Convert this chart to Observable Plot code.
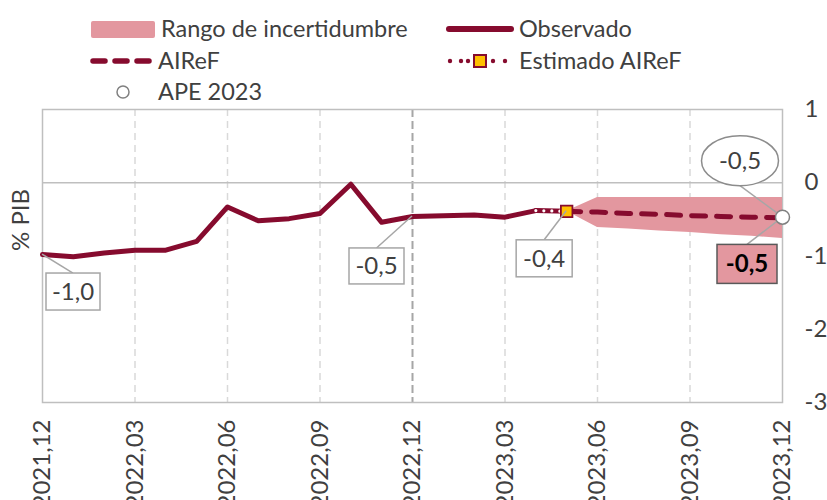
<!DOCTYPE html>
<html><head><meta charset="utf-8">
<script src="https://cdn.jsdelivr.net/npm/d3@7"></script>
<script src="https://cdn.jsdelivr.net/npm/@observablehq/plot@0.6"></script>
<style>
body{margin:0;background:#fff;}
#wrap{position:relative;width:827px;height:500px;overflow:hidden;font-family:Lato,sans-serif;color:#404040;}
#wrap svg.leg{position:absolute;left:0;top:0;}
</style></head><body><div id="wrap"></div>
<script>
// ---- data ----
const obsPeriods = ["2021-12","2022-01","2022-02","2022-03","2022-04","2022-05","2022-06","2022-07","2022-08","2022-09","2022-10","2022-11","2022-12","2023-01","2023-02","2023-03","2023-04"];
const obsValues  = [-0.98,-1.01,-0.96,-0.92,-0.92,-0.80,-0.33,-0.52,-0.49,-0.42,-0.02,-0.54,-0.46,-0.45,-0.44,-0.47,-0.38];
const estPeriods = ["2023-04","2023-05"];
const estValues  = [-0.38,-0.39];
const airefPeriods = ["2023-05","2023-06","2023-07","2023-08","2023-09","2023-10","2023-11","2023-12"];
const airefValues  = [-0.39,-0.40,-0.42,-0.43,-0.45,-0.46,-0.47,-0.48];
const bandLow  = [-0.39,-0.61,-0.63,-0.66,-0.68,-0.71,-0.73,-0.76];
const bandHigh = [-0.39,-0.20,-0.20,-0.20,-0.20,-0.20,-0.20,-0.20];
const apePeriods = ["2023-12"];
const apeValues  = [-0.47];
const tickPeriods = ["2021-12","2022-03","2022-06","2022-09","2022-12","2023-03","2023-06","2023-09","2023-12"];
const tickLabels  = ["2021,12","2022,03","2022,06","2022,09","2022,12","2023,03","2023,06","2023,09","2023,12"];
const yTicks = [-3,-2,-1,0,1];
const legendLabels = ["Rango de incertidumbre","Observado","AIReF","Estimado AIReF","APE 2023"];

// ---- helpers ----
const idx = p => { const [y,m] = p.split("-").map(Number); return (y-2021)*12 + (m-12); };
const rows = (ps, vs) => ps.map((p,i)=>({x:idx(p), y:vs[i]}));
const fmt = v => v.toFixed(1).replace(".", ",");
const MAROON = "#860b2e", PINK = "#e3979f", GRID = "#d9d9d9", TXT = "#404040";

const obs = rows(obsPeriods, obsValues);
const est = rows(estPeriods, estValues);
const aire = rows(airefPeriods, airefValues);
const band = airefPeriods.map((p,i)=>({x:idx(p), lo:bandLow[i], hi:bandHigh[i]}));
const ape = rows(apePeriods, apeValues);
const tickIdx = tickPeriods.map(idx);
const splitIdx = idx("2022-12");

const plot = Plot.plot({
  width: 827, height: 500,
  marginLeft: 42, marginRight: 45, marginTop: 109, marginBottom: 98,
  style: {fontFamily: "Lato, sans-serif", fontSize: "24px", color: TXT, background: "transparent", overflow: "visible"},
  x: {type: "linear", domain: [tickIdx[0], tickIdx[tickIdx.length-1]], ticks: tickIdx,
      tickFormat: d => tickLabels[tickIdx.indexOf(d)], tickRotate: -90, tickSize: 0, tickPadding: 17, label: null},
  y: {domain: [yTicks[0], yTicks[yTicks.length-1]], ticks: yTicks, axis: "right", tickSize: 0, tickPadding: 22,
      tickFormat: d => String(d), label: null},
  marks: [
    Plot.ruleX(tickIdx.filter(d => d !== splitIdx && d !== tickIdx[0] && d !== tickIdx[tickIdx.length-1]),
      {stroke: GRID, strokeWidth: 1.5, strokeDasharray: "7,5"}),
    Plot.ruleX([splitIdx], {stroke: "#a6a6a6", strokeWidth: 2, strokeDasharray: "8,4"}),
    Plot.ruleY([0], {stroke: "#bfbfbf", strokeWidth: 1.5}),
    Plot.frame({stroke: "#bfbfbf", strokeWidth: 1.5}),
    Plot.areaY(band, {x: "x", y1: "lo", y2: "hi", fill: PINK}),
    Plot.line(obs, {x: "x", y: "y", stroke: MAROON, strokeWidth: 5, strokeLinejoin: "round"}),
    Plot.line(est, {x: "x", y: "y", stroke: MAROON, strokeWidth: 5}),
    Plot.line(est, {x: "x", y: "y", stroke: "white", strokeWidth: 3.2, strokeDasharray: "0,8", strokeLinecap: "round"}),
    Plot.line(aire, {x: "x", y: "y", stroke: MAROON, strokeWidth: 5, strokeDasharray: "14,11", strokeLinecap: "round"}),
    Plot.dot(est.slice(-1), {x: "x", y: "y", symbol: "square", r: 6.5, fill: "#ffc000", stroke: MAROON, strokeWidth: 1.8}),
    Plot.dot(ape, {x: "x", y: "y", r: 7, fill: "white", stroke: "#808080", strokeWidth: 1.5}),
    Plot.text(["% PIB"], {frameAnchor: "left", text: d => d, rotate: -90, dx: -21, dy: -5, fontSize: 24, fill: TXT})
  ]
});
document.getElementById("wrap").appendChild(plot);

// ---- annotations (drawn with the plot's own scales) ----
const sx = plot.scale("x"), sy = plot.scale("y");
const fx = sx.apply ? v => sx.apply(v) : d3.scaleLinear(sx.domain, sx.range);
const fy = sy.apply ? v => sy.apply(v) : d3.scaleLinear(sy.domain, sy.range);
const svg = d3.select(plot.tagName === "svg" ? plot : plot.querySelector("svg"));
const annots = [
  {d: obs[0], text: fmt(obs[0].y), dx: 31, dy: 37.5, w: 54, h: 37},
  {d: obs[idx("2022-12")], text: fmt(obs[idx("2022-12")].y), dx: -35.5, dy: 50, w: 55, h: 36},
  {d: est[est.length-1], text: fmt(est[est.length-1].y), dx: -22, dy: 47.5, w: 56, h: 37},
  {d: aire[aire.length-1], text: fmt(aire[aire.length-1].y), dx: -35, dy: 46.5, w: 60, h: 39, bold: true, fill: PINK, stroke: "#595959"},
  {d: ape[0], text: fmt(ape[0].y), dx: -42, dy: -56, w: 77, h: 50, ellipse: true}
];
const g = svg.append("g").attr("font-family", "Lato, sans-serif");
for (const a of annots) {
  const px = fx(a.d.x), py = fy(a.d.y);
  const cx = px + a.dx, cy = py + a.dy;
  const ey = a.dy > 0 ? cy - a.h/2 : cy + a.h/2;
  g.append("line").attr("x1", px).attr("y1", py).attr("x2", cx).attr("y2", ey)
    .attr("stroke", "#a6a6a6").attr("stroke-width", 1.5);
  if (a.ellipse) {
    g.append("ellipse").attr("cx", cx).attr("cy", cy).attr("rx", a.w/2).attr("ry", a.h/2)
      .attr("fill", "white").attr("stroke", "#8c8c8c").attr("stroke-width", 1.5);
  } else {
    g.append("rect").attr("x", cx - a.w/2).attr("y", cy - a.h/2).attr("width", a.w).attr("height", a.h)
      .attr("fill", a.fill || "white").attr("stroke", a.stroke || "#a6a6a6").attr("stroke-width", 1.5);
  }
  g.append("text").attr("x", cx).attr("y", cy).attr("text-anchor", "middle").attr("dy", "0.35em")
    .attr("font-size", 24).attr("font-weight", a.bold ? 700 : 400).attr("fill", a.bold ? "#000" : TXT).text(a.text);
}
// re-draw the APE marker on top of its leaders
const apeDot = svg.selectAll("circle").nodes().pop();
if (apeDot) svg.node().appendChild(apeDot.closest("g") || apeDot);

// ---- legend ----
const leg = d3.select("#wrap").append("svg").attr("class", "leg").attr("width", 827).attr("height", 105)
  .attr("font-family", "Lato, sans-serif").attr("font-size", 23.5).attr("fill", TXT);
leg.append("rect").attr("x", 91).attr("y", 21).attr("width", 64).attr("height", 17).attr("rx", 2).attr("fill", PINK);
leg.append("text").attr("x", 161).attr("y", 29).attr("dy", "0.35em").text(legendLabels[0]);
leg.append("line").attr("x1", 449).attr("x2", 511).attr("y1", 29).attr("y2", 29).attr("stroke", MAROON).attr("stroke-width", 6).attr("stroke-linecap", "round");
leg.append("text").attr("x", 519).attr("y", 29).attr("dy", "0.35em").text(legendLabels[1]);
leg.append("line").attr("x1", 93).attr("x2", 149).attr("y1", 61).attr("y2", 61).attr("stroke", MAROON).attr("stroke-width", 5.5)
  .attr("stroke-linecap", "round").attr("stroke-dasharray", "12,10");
leg.append("text").attr("x", 158).attr("y", 61).attr("dy", "0.35em").text(legendLabels[2]);
for (const cx of [450, 461, 468, 493, 505]) {
  leg.append("circle").attr("cx", cx).attr("cy", 61).attr("r", 2.2).attr("fill", MAROON);
}
leg.append("rect").attr("x", 474).attr("y", 55).attr("width", 12).attr("height", 12).attr("fill", "#ffc000").attr("stroke", MAROON).attr("stroke-width", 2);
leg.append("text").attr("x", 519).attr("y", 61).attr("dy", "0.35em").text(legendLabels[3]);
leg.append("circle").attr("cx", 123).attr("cy", 92).attr("r", 6).attr("fill", "white").attr("stroke", "#808080").attr("stroke-width", 1.5);
leg.append("text").attr("x", 158).attr("y", 92).attr("dy", "0.35em").text(legendLabels[4]);
</script></body></html>
